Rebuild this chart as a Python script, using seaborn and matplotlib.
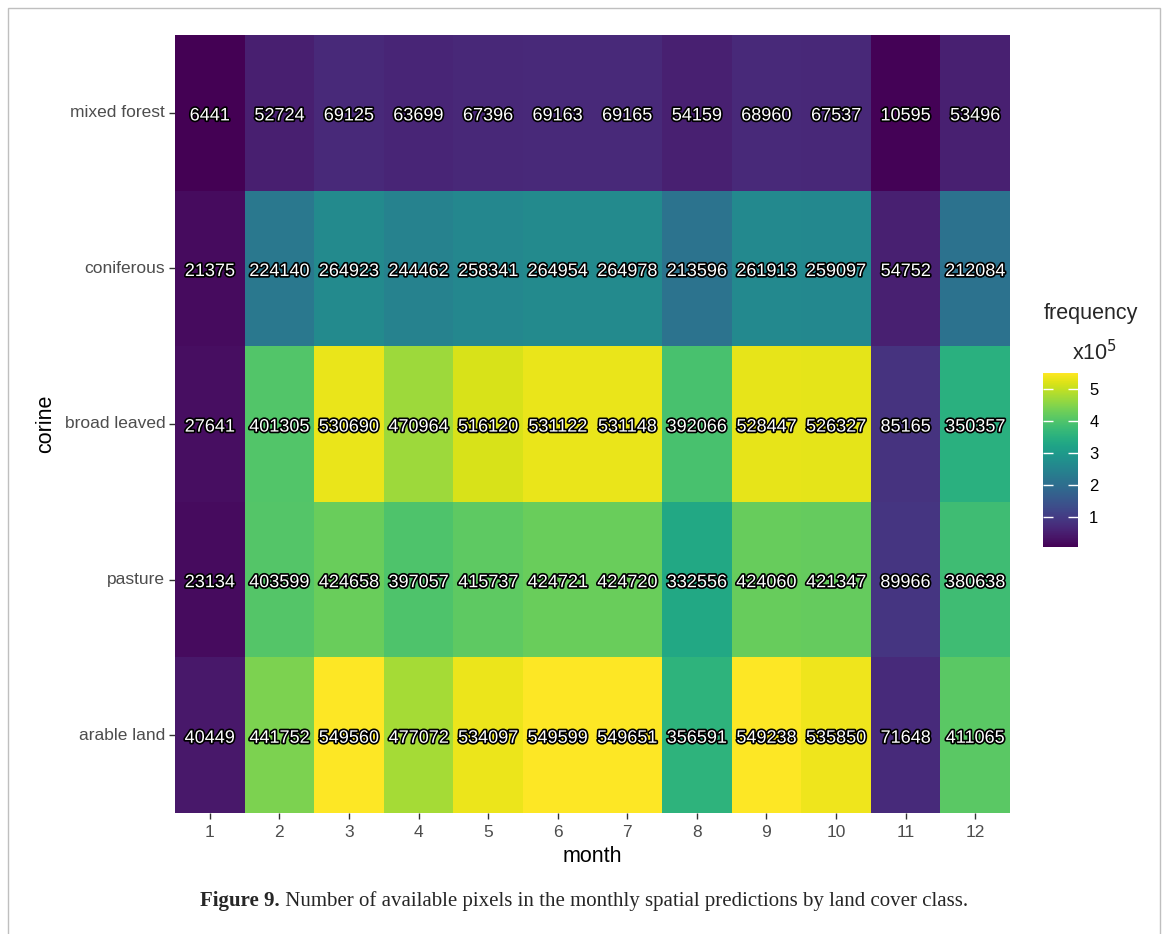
import numpy as np
import pandas as pd
import matplotlib
matplotlib.use("Agg")
import matplotlib.pyplot as plt
import matplotlib.patheffects as pe
from matplotlib.patches import Rectangle
from matplotlib.ticker import FuncFormatter
import seaborn as sns

# Available pixel counts per land cover class (rows) and month (columns)
months = [1, 2, 3, 4, 5, 6, 7, 8, 9, 10, 11, 12]
classes = ["mixed forest", "coniferous", "broad leaved", "pasture", "arable land"]

mixed_forest = [6441, 52724, 69125, 63699, 67396, 69163, 69165, 54159, 68960, 67537, 10595, 53496]
coniferous = [21375, 224140, 264923, 244462, 258341, 264954, 264978, 213596, 261913, 259097, 54752, 212084]
broad_leaved = [27641, 401305, 530690, 470964, 516120, 531122, 531148, 392066, 528447, 526327, 85165, 350357]
pasture = [23134, 403599, 424658, 397057, 415737, 424721, 424720, 332556, 424060, 421347, 89966, 380638]
arable_land = [40449, 441752, 549560, 477072, 534097, 549599, 549651, 356591, 549238, 535850, 71648, 411065]

cbar_ticks = [100000, 200000, 300000, 400000, 500000]

freq = pd.DataFrame(
    [mixed_forest, coniferous, broad_leaved, pasture, arable_land],
    index=classes, columns=months,
)

sns.set_theme(style="white")
plt.rcParams["font.family"] = ["Liberation Sans", "DejaVu Sans"]

fig = plt.figure(figsize=(11.68, 9.34), dpi=100)
ax = fig.add_axes([0.1498, 0.1296, 0.7149, 0.8329])
cax = fig.add_axes([0.893, 0.4143, 0.030, 0.1863])

sns.heatmap(
    freq, ax=ax, cmap="viridis", cbar=True, cbar_ax=cax,
    vmin=freq.values.min(), vmax=freq.values.max(),
    annot=False, linewidths=0,
)

# Cell labels: white digits with a dark outline
outline = [pe.withStroke(linewidth=2.4, foreground="black")]
for i, cls in enumerate(classes):
    for j, m in enumerate(months):
        ax.text(j + 0.5, i + 0.52, f"{freq.loc[cls, m]}", ha="center", va="center",
                color="white", fontsize=13, path_effects=outline)

ax.set_xlabel("month", fontsize=15.5, color="black", labelpad=4)
ax.set_ylabel("corine", fontsize=15.5, color="black", labelpad=6)
ax.tick_params(axis="both", which="both", length=4, width=1.0, color="#333333",
               labelsize=12.5, labelcolor="#4D4D4D", bottom=True, left=True)
ax.tick_params(axis="x", pad=5)
ax.tick_params(axis="y", pad=3)
ax.set_xticklabels([str(m) for m in months], rotation=0)
ax.set_yticklabels(classes, rotation=0)
for s in ax.spines.values():
    s.set_visible(False)

# Colorbar styled with inner white ticks and scaled labels
cax.set_axisbelow(False)
cax.set_yticks(cbar_ticks)
cax.yaxis.set_major_formatter(FuncFormatter(lambda v, p: f"{v / 1e5:g}"))
cax.tick_params(axis="y", which="major", direction="in", length=7, width=1.0,
                color="white", left=True, right=True, labelsize=12, labelcolor="black", pad=8)
cax.tick_params(axis="y", which="minor", length=0)
for s in cax.spines.values():
    s.set_visible(False)
fig.text(0.934, 0.664, "frequency", ha="center", va="center", fontsize=15.5)
fig.text(0.937, 0.623, r"x10$^{5}$", ha="center", va="center", fontsize=15.5)

# Page frame
fig.patches.append(Rectangle((8 / 1168, -0.05), (1160 - 8) / 1168, 1.05 - 8 / 934,
                             transform=fig.transFigure, fill=False,
                             edgecolor="#BFBFBF", linewidth=1.0))

# Caption with bold figure number
fig.canvas.draw()
renderer = fig.canvas.get_renderer()
bold = fig.text(0, 0, "Figure 9.", fontsize=15, fontweight="bold",
                family="Liberation Serif", va="baseline")
rest = fig.text(0, 0, " Number of available pixels in the monthly spatial predictions by land cover class.",
                fontsize=15, family="Liberation Serif", va="baseline")
wb = bold.get_window_extent(renderer).width
wr = rest.get_window_extent(renderer).width
x0 = (1168 - (wb + wr)) / 2
yb = 1 - 906 / 934
bold.set_position((x0 / 1168, yb))
rest.set_position(((x0 + wb) / 1168, yb))

fig.savefig("out.png", dpi=100)
